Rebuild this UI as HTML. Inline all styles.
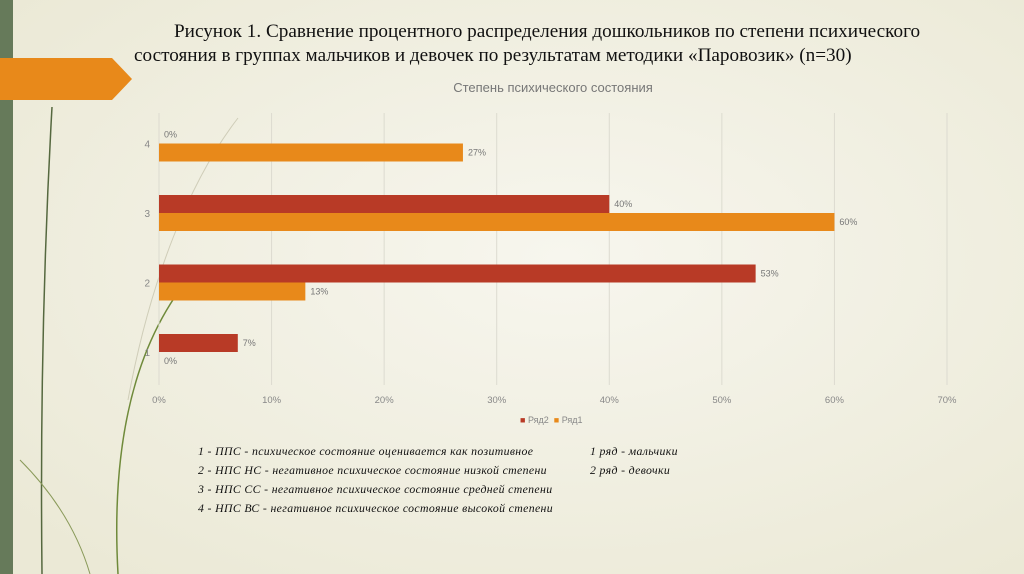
<!DOCTYPE html>
<html><head><meta charset="utf-8"><style>
body{margin:0;width:1024px;height:574px;overflow:hidden;background:#f1f0e4;position:relative;font-family:"Liberation Sans",sans-serif}
.t{position:absolute;white-space:nowrap}
</style></head><body>
<svg width="1024" height="574" style="position:absolute;left:0;top:0">
<defs><radialGradient id="g" cx="0.55" cy="0.45" r="0.7"><stop offset="0" stop-color="#f7f6ee"/><stop offset="1" stop-color="#ebe9d6"/></radialGradient></defs>
<rect width="1024" height="574" fill="url(#g)"/>
<rect x="0" y="0" width="13" height="574" fill="#667a5a"/>
<polygon points="0,58 112,58 132,79 112,100 0,100" fill="#e8891a"/>
<path d="M52,107 C44,250 40,400 42,574" stroke="#55683f" stroke-width="1.5" fill="none"/>
<path d="M200,265 C140,330 110,430 118,574" stroke="#6f8a3a" stroke-width="1.5" fill="none"/>
<path d="M238,118 C190,180 150,280 128,400" stroke="#cfcdb8" stroke-width="1" fill="none"/>
<path d="M20,460 C60,500 80,540 90,574" stroke="#8a9a5a" stroke-width="1" fill="none"/>
</svg>
<div class="t" style="left:174px;top:20px;font:19.2px 'Liberation Serif',serif;line-height:24px;color:#111">Рисунок 1. Сравнение процентного распределения дошкольников по степени психического</div>
<div class="t" style="left:134px;top:44px;font:19.2px 'Liberation Serif',serif;line-height:24px;color:#111">состояния в группах мальчиков и девочек по результатам методики «Паровозик» (n=30)</div>
<div class="t" style="left:403px;width:300px;text-align:center;top:80px;font-size:13px;color:#777">Степень психического состояния</div>
<svg id="chart" width="1024" height="574" style="position:absolute;left:0;top:0"></svg>
<div class="t" style="left:520px;top:415px;font-size:9px;color:#888"><span style="color:#b83a26">■</span> Ряд2 &nbsp;<span style="color:#e8891a">■</span> Ряд1</div>
<div style="position:absolute;left:198px;top:442px;font:italic 11.8px 'Liberation Serif',serif;line-height:19px;color:#111;letter-spacing:0.35px">
<div>1 - ППС - психическое состояние оценивается как позитивное</div>
<div>2 - НПС НС - негативное психическое состояние низкой степени</div>
<div>3 - НПС СС - негативное психическое состояние средней степени</div>
<div>4 - НПС ВС - негативное психическое состояние высокой степени</div></div>
<div style="position:absolute;left:590px;top:442px;font:italic 11.8px 'Liberation Serif',serif;line-height:19px;color:#111;letter-spacing:0.35px">
<div>1 ряд - мальчики</div><div>2 ряд - девочки</div></div>
<script>
const categories=["1","2","3","4"];
const series2=[7,53,40,0];
const series1=[0,13,60,27];
const ticks=[0,10,20,30,40,50,60,70];
const svg=document.getElementById('chart');const NS='http://www.w3.org/2000/svg';
const x=v=>159+v*(947-159)/70;
const yc=i=>352-i*69.5;
function el(t,a){const e=document.createElementNS(NS,t);for(const k in a)e.setAttribute(k,a[k]);svg.appendChild(e);return e;}
ticks.forEach(t=>{
const l=el('line',{x1:x(t),x2:x(t),y1:113,y2:385,stroke:'#dcdbd0','stroke-width':1});


const tx=el('text',{x:x(t),y:403,'text-anchor':'middle','font-size':9.5,fill:'#888','font-family':'Liberation Sans'});
tx.textContent=t+'%';


});
categories.forEach((c,i)=>{
const cy=yc(i);
const lb=el('text',{x:150,y:cy+4,'text-anchor':'end','font-size':10,fill:'#888','font-family':'Liberation Sans'});
lb.textContent=c;


const r2=el('rect',{x:x(0),y:cy-18,width:x(series2[i])-x(0),height:18,fill:'#b83a26'});


const r1=el('rect',{x:x(0),y:cy,width:x(series1[i])-x(0),height:18,fill:'#e8891a'});


const t2=el('text',{x:x(series2[i])+5,y:cy-6,'font-size':9,fill:'#777','font-family':'Liberation Sans'});
t2.textContent=series2[i]+'%';


const t1=el('text',{x:x(series1[i])+5,y:cy+12,'font-size':9,fill:'#777','font-family':'Liberation Sans'});
t1.textContent=series1[i]+'%';


});
</script>
</body></html>
